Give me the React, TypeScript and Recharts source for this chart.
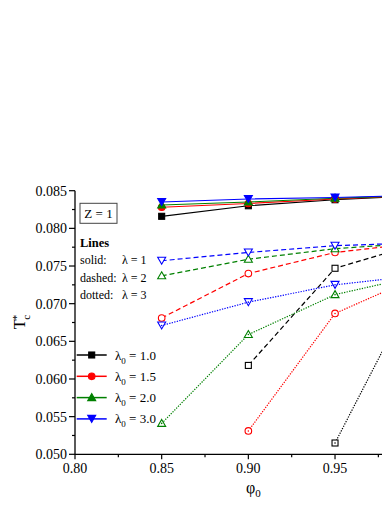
import { LineChart, Line, XAxis, YAxis } from "recharts";

// phi_0 values where the curves were sampled
const phi = [0.85, 0.9, 0.95, 1.0];

// solid lines, lambda = 1
const solid10 = [0.0816, 0.083, 0.0838, 0.0844];
const solid15 = [0.0828, 0.0833, 0.0839, 0.0844];
const solid20 = [0.0831, 0.0835, 0.084, 0.0844];
const solid30 = [0.0835, 0.0839, 0.0841, 0.0844];

// dashed lines, lambda = 2
const dashed10 = [null, 0.0618, 0.0747, 0.0781];
const dashed15 = [0.0681, 0.074, 0.0768, 0.0781];
const dashed20 = [0.0737, 0.0759, 0.0773, 0.0781];
const dashed30 = [0.0757, 0.0768, 0.0777, 0.0781];

// dotted lines, lambda = 3
const dotted10 = [null, null, 0.0515, 0.0738];
const dotted15 = [null, 0.0531, 0.0687, 0.0738];
const dotted20 = [0.0541, 0.0659, 0.0712, 0.0738];
const dotted30 = [0.0671, 0.0702, 0.0725, 0.0738];

const lambda0Labels = ["1.0", "1.5", "2.0", "3.0"];

const xTicks = [0.8, 0.825, 0.85, 0.875, 0.9, 0.925, 0.95, 0.975, 1.0];
const yTicks = [
  0.05, 0.0525, 0.055, 0.0575, 0.06, 0.0625, 0.065, 0.0675, 0.07, 0.0725,
  0.075, 0.0775, 0.08, 0.0825, 0.085,
];

const colors = ["#000000", "#ff0000", "#008000", "#0000ff"];
const shapes = ["square", "circle", "up", "down"];

const groups = [
  { name: "s", kind: "filled", dash: undefined, sets: [solid10, solid15, solid20, solid30] },
  { name: "d", kind: "open", dash: "5 3", sets: [dashed10, dashed15, dashed20, dashed30] },
  { name: "t", kind: "dotted", dash: "1.3 1.3", sets: [dotted10, dotted15, dotted20, dotted30] },
];

const rows = phi.map((p, i) => {
  const row: Record<string, number | null> = { phi: p };
  groups.forEach((g) => g.sets.forEach((s, j) => (row[`${g.name}${j}`] = s[i])));
  return row;
});

const FONT = "'Times New Roman', 'Liberation Serif', serif";
const txt = { fontFamily: FONT };

const Marker = ({ cx, cy, shape, color, kind }: any) => {
  if (cx == null || cy == null || isNaN(cx) || isNaN(cy)) return <g />;
  const fill = kind === "filled" ? color : "#fff";
  const common = { fill, stroke: color, strokeWidth: 1.1 };
  let el;
  if (shape === "square") el = <rect x={cx - 3} y={cy - 3} width={6} height={6} {...common} />;
  else if (shape === "circle") el = <circle cx={cx} cy={cy} r={3.3} {...common} />;
  else if (shape === "up")
    el = <polygon points={`${cx},${cy - 4} ${cx + 4},${cy + 3} ${cx - 4},${cy + 3}`} {...common} />;
  else
    el = <polygon points={`${cx - 4},${cy - 3.5} ${cx + 4},${cy - 3.5} ${cx},${cy + 3.5}`} {...common} />;
  return (
    <g>
      {el}
      {kind === "dotted" && <circle cx={cx} cy={cy} r={0.8} fill={color} />}
    </g>
  );
};

const BottomTick = ({ x, y, payload }: any) => {
  const v = payload.value;
  const major = Math.round(v * 1000) % 50 === 0;
  return (
    <g>
      <line x1={x} x2={x} y1={y} y2={y + (major ? 5 : 3)} stroke="#000" strokeWidth={1.2} />
      {major && v < 0.99 && (
        <text x={x} y={y + 19} textAnchor="middle" fontSize={14} style={txt} fill="#000">
          {v.toFixed(2)}
        </text>
      )}
    </g>
  );
};

const TopTick = ({ x, y, payload }: any) => {
  const major = Math.round(payload.value * 1000) % 50 === 0;
  return <line x1={x} x2={x} y1={y} y2={y + (major ? 6 : 3)} stroke="#000" strokeWidth={1.2} />;
};

const LeftTick = ({ x, y, payload }: any) => {
  const v = payload.value;
  const major = Math.round(v * 10000) % 50 === 0;
  return (
    <g>
      <line x1={x} x2={x - (major ? 6 : 3)} y1={y} y2={y} stroke="#000" strokeWidth={1.2} />
      {major && (
        <text x={x - 8} y={y + 5} textAnchor="end" fontSize={14} style={txt} fill="#000">
          {v.toFixed(3)}
        </text>
      )}
    </g>
  );
};

export default function App() {
  const W = 440;
  const H = 497;
  return (
    <div style={{ position: "relative", width: W, height: H, fontFamily: FONT }}>
      <LineChart
        width={W}
        height={H}
        data={rows}
        margin={{ top: 182.7, right: 26.3, bottom: 20.7, left: 10 }}
      >
        <XAxis
          dataKey="phi"
          type="number"
          domain={[0.8, 1.0]}
          ticks={xTicks}
          height={30}
          tickSize={0}
          tickMargin={0}
          tick={<BottomTick />}
          axisLine={{ stroke: "#000", strokeWidth: 1.3 }}
          interval={0}
        />
        <XAxis
          xAxisId="top"
          orientation="top"
          dataKey="phi"
          type="number"
          domain={[0.8, 1.0]}
          ticks={xTicks}
          height={0}
          tickSize={0}
          tickMargin={0}
          tick={<TopTick />}
          axisLine={{ stroke: "#000", strokeWidth: 1.3 }}
          interval={0}
        />
        <YAxis
          type="number"
          domain={[0.05, 0.085]}
          ticks={yTicks}
          width={57}
          tickSize={0}
          tickMargin={0}
          tick={<LeftTick />}
          axisLine={{ stroke: "#000", strokeWidth: 1.3 }}
          interval={0}
          allowDataOverflow
        />
        {groups.map((g) =>
          g.sets.map((_, j) => (
            <Line
              key={`${g.name}${j}`}
              dataKey={`${g.name}${j}`}
              stroke={colors[j]}
              strokeWidth={1.2}
              strokeDasharray={g.dash}
              isAnimationActive={false}
              type="linear"
              dot={(p: any) => (
                <Marker key={`${g.name}${j}-${p.index}`} cx={p.cx} cy={p.cy} shape={shapes[j]} color={colors[j]} kind={g.kind} />
              )}
              activeDot={false}
            />
          ))
        )}
      </LineChart>
      <svg
        width={W}
        height={H}
        style={{ position: "absolute", left: 0, top: 0, pointerEvents: "none", fontFamily: FONT }}
      >
        <rect x={72} y={195.3} width={37} height={20} fill="#fff" stroke="#444" strokeWidth={1} />
        <text x={90.5} y={209.8} textAnchor="middle" fontSize={13}>Z = 1</text>
        <text x={72} y={239} fontSize={12.5} fontWeight="bold">Lines</text>
        <text x={72} y={256.3} fontSize={12}>solid:</text>
        <text x={114} y={256.3} fontSize={12}>λ = 1</text>
        <text x={72} y={273.6} fontSize={12}>dashed:</text>
        <text x={114} y={273.6} fontSize={12}>λ = 2</text>
        <text x={72} y={290.6} fontSize={12}>dotted:</text>
        <text x={114} y={290.6} fontSize={12}>λ = 3</text>

        {lambda0Labels.map((lab, j) => {
          const cy = 347 + j * 21.3;
          return (
            <g key={lab}>
              <line x1={68.7} x2={98.7} y1={cy} y2={cy} stroke={colors[j]} strokeWidth={1.5} />
              <Marker cx={83.7} cy={cy} shape={shapes[j]} color={colors[j]} kind="filled" />
              <text x={107} y={cy + 4.5} fontSize={13}>
                λ<tspan dy={4} fontSize={9}>0</tspan>
                <tspan dy={-4}> = {lab}</tspan>
              </text>
            </g>
          );
        })}

        <text x={238} y={485} fontSize={16}>
          φ<tspan dy={4} fontSize={11}>0</tspan>
        </text>
        <text transform="rotate(-90 17 314)" x={17} y={314} fontSize={16} textAnchor="middle">
          T<tspan dy={-5} dx={-1} fontSize={11}>*</tspan>
          <tspan dy={10} dx={-5} fontSize={11}>c</tspan>
        </text>
      </svg>
    </div>
  );
}
